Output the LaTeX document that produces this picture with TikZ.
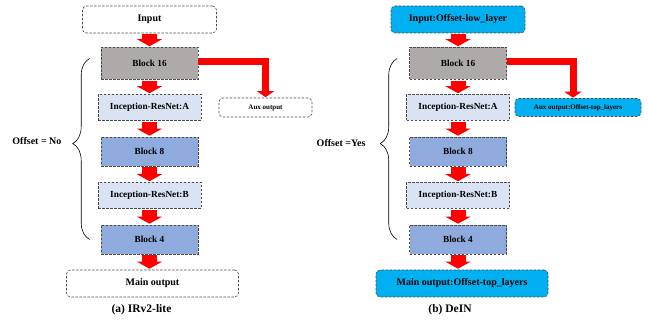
\documentclass[tikz,border=0pt]{standalone}
\usepackage{fontspec}
\setmainfont{Liberation Serif}
\usetikzlibrary{arrows.meta,decorations.pathreplacing}

\definecolor{blkgray}{HTML}{AEAAAA}
\definecolor{blkblue}{HTML}{8FAADC}
\definecolor{incblue}{HTML}{DAE3F3}
\definecolor{offcyan}{HTML}{00B0F0}

\begin{document}
\begin{tikzpicture}[x=1pt,y=-1pt,node distance=44pt,
  box/.style={draw=black!70,dash pattern=on 2.5pt off 1.5pt,line width=0.6pt,inner sep=0pt,
    minimum width=97pt,minimum height=29pt,font=\fontsize{9.3}{11}\selectfont\bfseries},
  io/.style={box,rounded corners=4pt,minimum width=134pt,minimum height=27pt,
    font=\fontsize{10}{12}\selectfont\bfseries},
  blkg/.style={box,fill=blkgray},
  blkb/.style={box,fill=blkblue},
  inc/.style={box,fill=incblue,minimum width=103pt,minimum height=26pt},
  auxo/.style={io,minimum height=19pt,font=\fontsize{7}{8}\selectfont\bfseries},
  fatarrow/.style={draw=red,line width=15pt,-{Triangle[width=25pt,length=7pt]},
    shorten <=1pt,shorten >=1pt},
  sidearrow/.style={draw=red,line width=7pt,-{Triangle[width=17pt,length=6pt]},shorten >=0.5pt},
  curly/.style={draw=black,line width=0.6pt,decorate,decoration={brace,amplitude=17pt,aspect=0.53}},
  lbl/.style={font=\fontsize{10}{12}\selectfont\bfseries,anchor=east},
  capt/.style={font=\fontsize{11.5}{13}\selectfont\bfseries}]

\useasboundingbox (0,0) rectangle (648,320);

% (a) IRv2-lite
\node[io] (inL) at (149.5,19.5) {Input};
\node[blkg,minimum height=32pt] (b16L) [below of=inL] {Block 16};
\node[inc] (incaL) [below of=b16L] {Inception-ResNet:A};
\node[blkb] (b8L) [below of=incaL] {Block 8};
\node[inc] (incbL) [below of=b8L] {Inception-ResNet:B};
\node[blkb] (b4L) [below of=incbL] {Block 4};
\node[io,minimum width=172pt] (outL) [below of=b4L,xshift=3pt] {Main output};
\node[auxo,minimum width=93pt] (auxL) [right of=incaL,node distance=116pt] {Aux output};
\node[capt] (capL) [below of=outL,node distance=26pt,xshift=-11pt] {(a) IRv2-lite};

% (b) DeIN
\node[io,fill=offcyan] (inR) at (458,19.5) {Input:Offset-low\_layer};
\node[blkg,minimum height=32pt] (b16R) [below of=inR] {Block 16};
\node[inc] (incaR) [below of=b16R] {Inception-ResNet:A};
\node[blkb] (b8R) [below of=incaR] {Block 8};
\node[inc] (incbR) [below of=b8R] {Inception-ResNet:B};
\node[blkb] (b4R) [below of=incbR] {Block 4};
\node[io,fill=offcyan,minimum width=172pt] (outR) [below of=b4R,xshift=4pt] {Main output:Offset-top\_layers};
\node[auxo,fill=offcyan,minimum width=126pt,minimum height=18pt] (auxR) [right of=incaR,node distance=120pt] {Aux output:Offset-top\_layers};
\node[capt] (capR) [below of=outR,node distance=26pt,xshift=-12pt] {(b) DeIN};

\path (inL) edge[fatarrow] (b16L)
      (b16L) edge[fatarrow] (incaL)
      (incaL) edge[fatarrow] (b8L)
      (b8L) edge[fatarrow] (incbL)
      (incbL) edge[fatarrow] (b4L)
      (b4L.south) edge[fatarrow] (b4L.south |- outL.north);
\path (inR) edge[fatarrow] (b16R)
      (b16R) edge[fatarrow] (incaR)
      (incaR) edge[fatarrow] (b8R)
      (b8R) edge[fatarrow] (incbR)
      (incbR) edge[fatarrow] (b4R)
      (b4R.south) edge[fatarrow] (b4R.south |- outR.north);

\draw[sidearrow] ([yshift=1.5pt]b16L.east) -| (auxL.north);
\draw[sidearrow] ([yshift=1.5pt]b16R.east) -| ([xshift=-5pt]auxR.north);

\draw[curly] ([xshift=-11pt]b4L.west) -- ([xshift=-11pt,yshift=5pt]b16L.west);
\draw[curly] ([xshift=-12pt]b4R.west) -- ([xshift=-12pt,yshift=5pt]b16R.west);
\node[lbl] (offL) at (65,141) {Offset = No};
\node[lbl] (offR) at (369,143) {Offset =Yes};
\end{tikzpicture}
\end{document}
